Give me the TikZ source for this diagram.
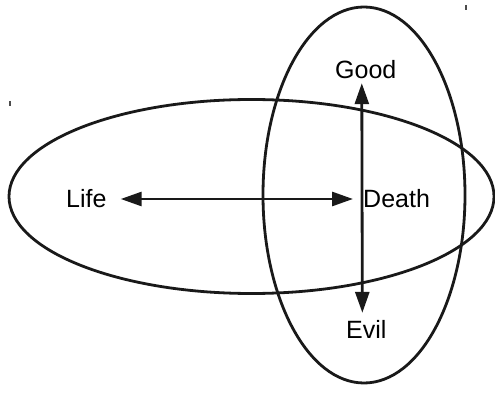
\documentclass[tikz,border=0pt]{standalone}
\usepackage{fontspec}
\setmainfont{Liberation Sans}
\usetikzlibrary{arrows.meta}
\begin{document}
\begin{tikzpicture}[x=1pt,y=-1pt,
  lbl/.style={inner sep=0pt,text height=18pt,text depth=0pt,font=\fontsize{25}{30}\selectfont,anchor=base west},
  ring/.style={line width=2.8pt,draw=black!90},
  arr/.style={line width=2.8pt,draw=black!90,{Triangle[length=21pt,width=14pt]}-{Triangle[length=21pt,width=14pt]}},
  tick/.style={line width=1.2pt,draw=black!70}]
\useasboundingbox (0,0) rectangle (495,395);
\draw[ring] (251.5,196.5) ellipse [x radius=242.5, y radius=97];
\draw[ring] (364,195) ellipse [x radius=101, y radius=188];
\node[lbl] (life) at (66,208) {Life};
\node[lbl] (death) at (363,208) {Death};
\node[lbl] (good) at (335,79) {Good};
\node[lbl] (evil) at (346,338) {Evil};
\draw[arr] ([xshift=14pt]life.east) -- ([xshift=-10pt]death.west);
\draw[arr] ([xshift=-4pt,yshift=-4pt]good.south) -- ([xshift=-4pt,yshift=7pt]evil.north);
\draw[tick] (466,5) -- (466,10);
\draw[tick] (10,101) -- (10,106);
\end{tikzpicture}
\end{document}
